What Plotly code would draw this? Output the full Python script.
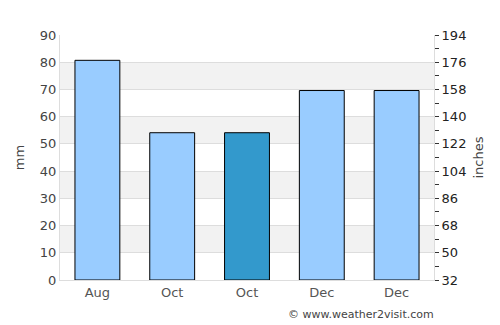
import plotly.graph_objects as go

months = ["Aug", "Oct", "Oct", "Dec", "Dec"]
rain_mm = [80.7, 54.1, 54.1, 69.6, 69.6]
highlight = [False, False, True, False, False]
left_ticks = [0, 10, 20, 30, 40, 50, 60, 70, 80, 90]
right_ticks = [32, 50, 68, 86, 104, 122, 140, 158, 176, 194]

x = list(range(len(months)))
colors = ["#3399cc" if h else "#99ccff" for h in highlight]

fig = go.Figure()
fig.add_trace(go.Bar(x=x, y=rain_mm, width=0.6, marker=dict(color=colors, line=dict(color="black", width=1)),
                     showlegend=False, hoverinfo="skip"))
fig.add_trace(go.Scatter(x=[0], y=[right_ticks[0]], yaxis="y2", mode="markers",
                         marker=dict(opacity=0), showlegend=False, hoverinfo="skip"))

for lo in range(10, 90, 20):
    fig.add_shape(type="rect", xref="paper", yref="y", x0=0, x1=1, y0=lo, y1=lo + 10,
                  fillcolor="#f2f2f2", line=dict(width=0), layer="below")

font = "DejaVu Sans, Verdana, sans-serif"
fig.update_layout(
    width=500, height=325,
    margin=dict(l=60, r=66, t=35, b=45),
    plot_bgcolor="white", paper_bgcolor="white",
    font=dict(family=font, size=13, color="#444"),
    bargap=0.4,
    xaxis=dict(range=[-0.5, len(months) - 0.5], tickvals=x, ticktext=months,
               showgrid=False, showline=True, linecolor="#dddddd", linewidth=1,
               ticks="", tickfont=dict(color="#555", size=13), zeroline=False, fixedrange=True),
    yaxis=dict(range=[0, 90], tickvals=left_ticks, showgrid=True, gridcolor="#dddddd", gridwidth=1,
               showline=True, linecolor="#dddddd", zeroline=False,
               title=dict(text="mm", font=dict(size=13, color="#444"), standoff=12),
               tickfont=dict(color="#444", size=13), ticks="", fixedrange=True),
    yaxis2=dict(range=[32, 194], tickvals=right_ticks, overlaying="y", side="right",
                showgrid=False, showline=True, linecolor="#dddddd", zeroline=False,
                ticks="outside", ticklen=4, tickcolor="#333", tickwidth=1,
                minor=dict(ticks="outside", dtick=9, tick0=32, ticklen=4, tickcolor="#333"),
                tickfont=dict(color="#222", size=13),
                title=dict(text="inches", font=dict(size=13, color="#444"), standoff=8),
                fixedrange=True),
    annotations=[dict(text="© www.weather2visit.com", xref="paper", yref="paper",
                      x=0.805, y=-0.105, xanchor="center", yanchor="top", showarrow=False,
                      font=dict(size=11, color="#444", family=font))],
)

fig.write_html("out.html")
